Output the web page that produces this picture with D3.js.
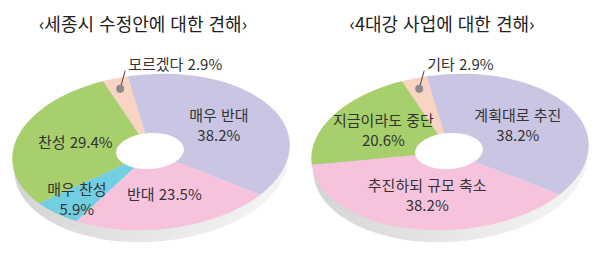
<!DOCTYPE html>
<html lang="ko">
<head>
<meta charset="UTF-8">
<title>세종시 / 4대강</title>
<script src="https://cdn.jsdelivr.net/npm/d3@7"></script>
<style>
    body { margin: 0; background: #fff; }
    svg text { font-family: "Noto Sans CJK KR", "Noto Sans", sans-serif; }
</style>
</head>
<body>
<div id="chart"></div>
<script>
    // 세종시 수정안
    const sejongTitle = "‹세종시 수정안에 대한 견해›"
    const sejongLabels = ["매우 반대", "반대", "매우 찬성", "찬성", "모르겠다"]
    const sejongValues = [38.2, 23.5, 5.9, 29.4, 2.9]
    const sejongColors = ["#c9c5e3", "#f7c3dc", "#72cee1", "#a7cf6c", "#f9d4c4"]
    const sejongTwoLine = [true, false, true, false, false]

    // 4대강 사업
    const riverTitle = "‹4대강 사업에 대한 견해›"
    const riverLabels = ["계획대로 추진", "추진하되 규모 축소", "지금이라도 중단", "기타"]
    const riverValues = [38.2, 38.2, 20.6, 2.9]
    const riverColors = ["#c9c5e3", "#f7c3dc", "#a7cf6c", "#f9d4c4"]
    const riverTwoLine = [true, true, true, false]

    const width = 600, height = 262
    const R = 139, squash = 0.56, tilt = -4
    const t = tilt * Math.PI / 180

    const svg = d3.select("#chart").append("svg")
        .attr("width", width).attr("height", height)
        .attr("viewBox", `0 0 ${width} ${height}`)

    const defs = svg.append("defs")
    const grad = defs.append("linearGradient").attr("id", "side")
        .attr("x1", "0").attr("y1", "0.2").attr("x2", "1").attr("y2", "0.6")
    grad.append("stop").attr("offset", "0%").attr("stop-color", "#cfcfcf")
    grad.append("stop").attr("offset", "50%").attr("stop-color", "#e0e0e0")
    grad.append("stop").attr("offset", "100%").attr("stop-color", "#f3f3f3")

    function drawPie(cx, cy, title, labels, values, colors, twoLine) {
        const g = svg.append("g")

        const project = ([x, y]) => {
            const ys = y * squash
            return [cx + x * Math.cos(t) - ys * Math.sin(t), cy + x * Math.sin(t) + ys * Math.cos(t)]
        }

        g.append("text")
            .attr("x", cx - 8).attr("y", 31)
            .attr("text-anchor", "middle")
            .attr("font-size", 18)
            .attr("fill", "#222")
            .text(title)

        const start = -7.5 * Math.PI / 180
        const pie = d3.pie().sort(null).startAngle(start).endAngle(start + 2 * Math.PI)
        const arcs = pie(values)
        const arc = d3.arc().innerRadius(0).outerRadius(R)

        const disk = `translate(${cx},${cy}) rotate(${tilt}) scale(1,${squash})`

        // side / shadow
        g.append("ellipse")
            .attr("transform", `translate(${cx},${cy + 12}) rotate(${tilt}) scale(1,${squash})`)
            .attr("rx", R - 2).attr("ry", R)
            .attr("fill", "url(#side)")

        g.append("g").attr("transform", disk)
            .selectAll("path")
            .data(arcs)
            .enter()
            .append("path")
            .attr("d", arc)
            .attr("fill", (d, i) => colors[i])

        // hole
        g.append("ellipse")
            .attr("transform", `translate(${cx - 1},${cy - 1}) rotate(${tilt})`)
            .attr("rx", 34).attr("ry", 18)
            .attr("fill", "#fff")

        arcs.forEach((d, i) => {
            const v = values[i]
            const pctText = v.toFixed(1) + "%"
            if (v < 5) {
                const dot = project(d3.arc().innerRadius(R * 0.86).outerRadius(R * 0.86).centroid(d))
                g.append("line")
                    .attr("x1", dot[0]).attr("y1", dot[1])
                    .attr("x2", dot[0] + 5).attr("y2", dot[1] - 18)
                    .attr("stroke", "#444").attr("stroke-width", 1)
                g.append("circle")
                    .attr("cx", dot[0]).attr("cy", dot[1]).attr("r", 4)
                    .attr("fill", "#8a8a8a")
                g.append("text")
                    .attr("x", dot[0] + 8).attr("y", dot[1] - 19)
                    .attr("font-size", 15).attr("fill", "#333")
                    .text(labels[i] + " " + pctText)
                return
            }
            const lr = v < 10 ? R * 0.78 : R * 0.57
            const p = project(d3.arc().innerRadius(lr).outerRadius(lr).centroid(d))
            const txt = g.append("text")
                .attr("x", p[0]).attr("text-anchor", "middle")
                .attr("font-size", 15).attr("fill", "#333")
            if (twoLine[i]) {
                txt.append("tspan").attr("x", p[0]).attr("y", p[1] - 5).text(labels[i])
                txt.append("tspan").attr("x", p[0]).attr("y", p[1] + 15).text(pctText)
            } else {
                txt.attr("y", p[1] + 5).text(labels[i] + " " + pctText)
            }
        })
    }

    drawPie(151, 152, sejongTitle, sejongLabels, sejongValues, sejongColors, sejongTwoLine)
    drawPie(450, 152, riverTitle, riverLabels, riverValues, riverColors, riverTwoLine)
</script>
</body>
</html>
